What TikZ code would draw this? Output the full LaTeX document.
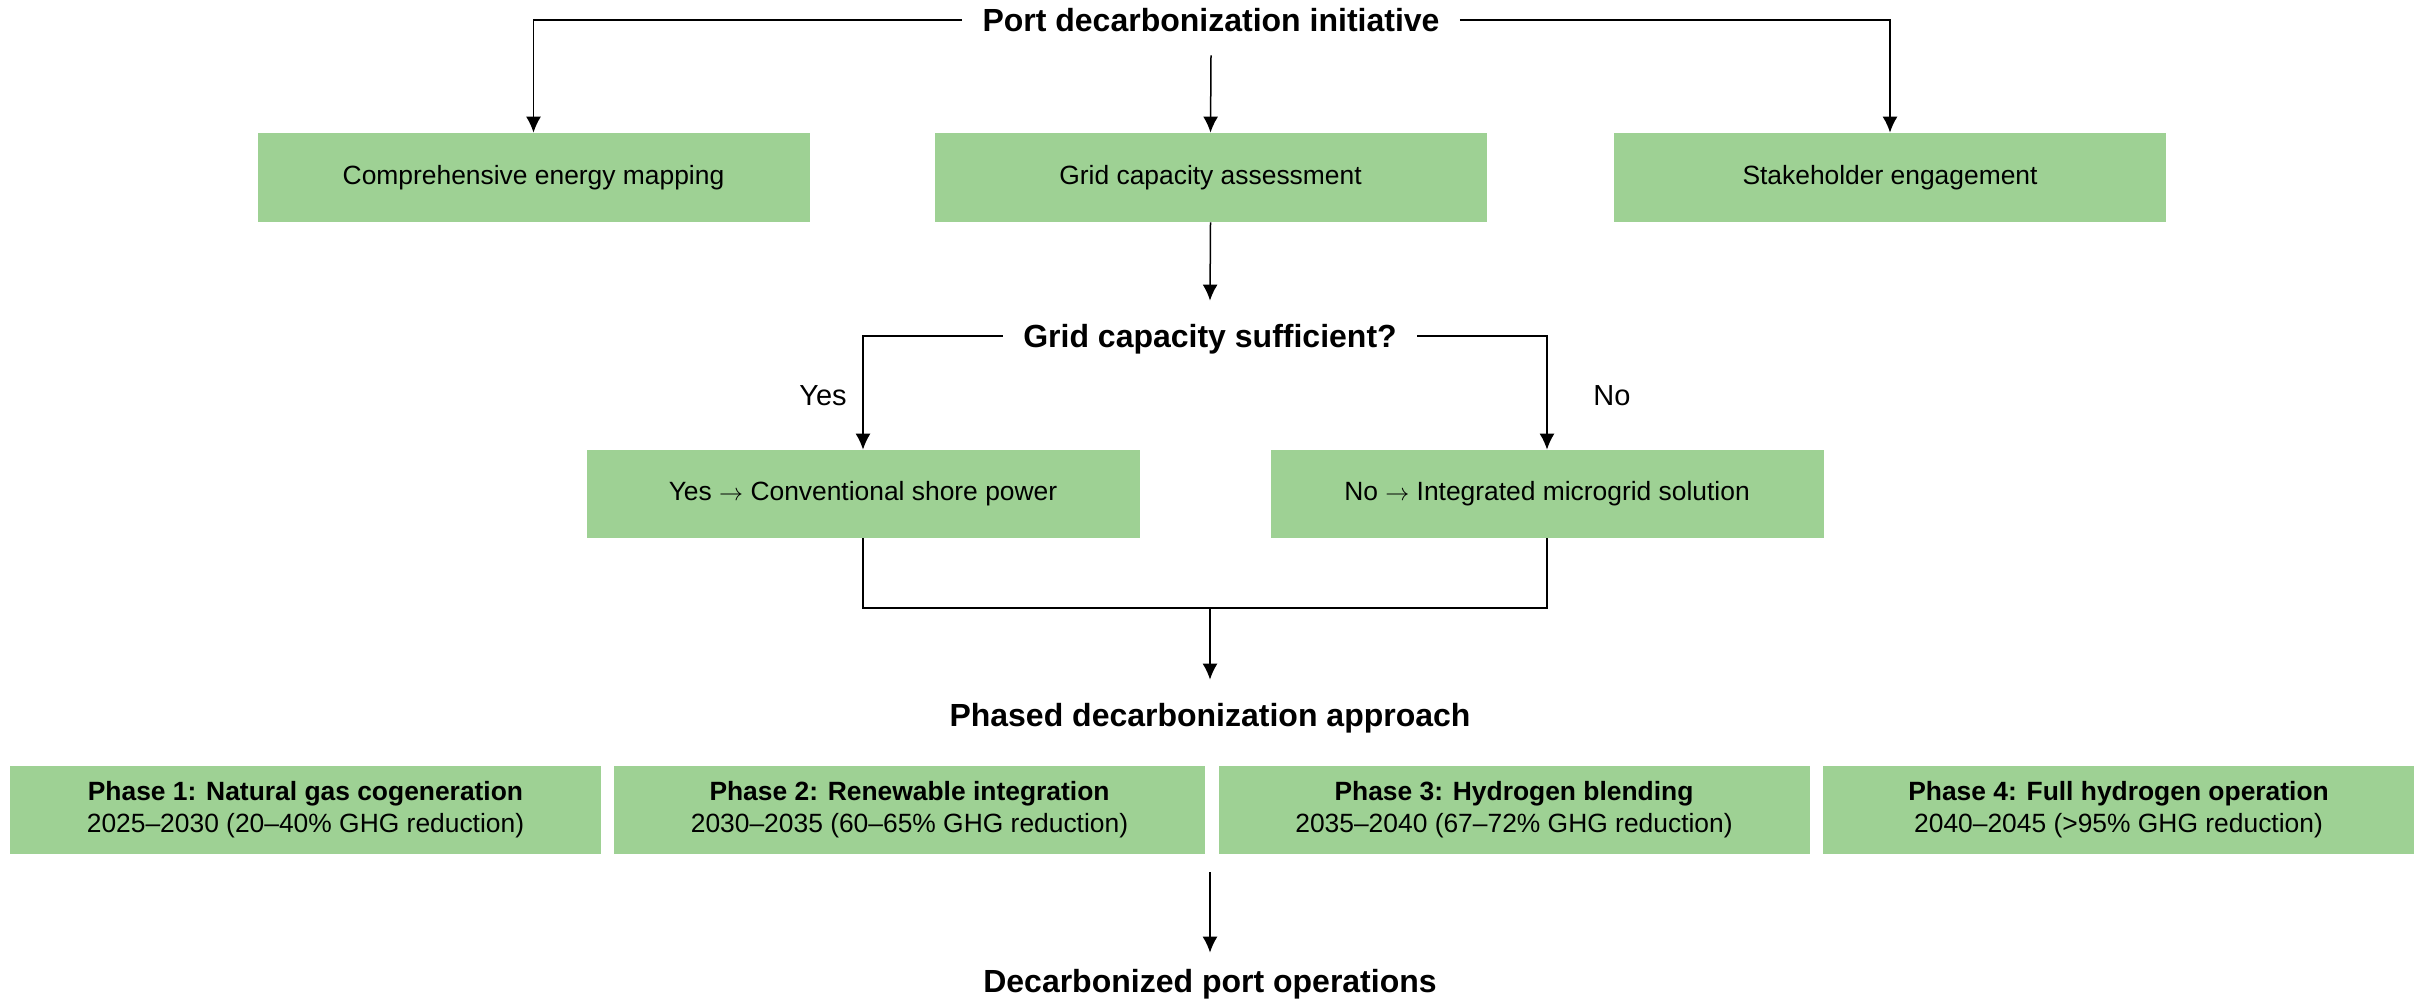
\documentclass[tikz,border=0pt]{standalone}
\usepackage{fontspec}
\setmainfont{Liberation Sans}
\usetikzlibrary{arrows.meta}
\definecolor{boxgreen}{RGB}{158,209,148}
\begin{document}
\begin{tikzpicture}[x=0.5pt,y=-0.5pt,
  conn/.style={draw=black,line width=0.75pt},
  arr/.style={conn,-{Latex[length=8pt,width=7.5pt]}},
  head/.style={font=\bfseries\fontsize{16}{19}\selectfont,text height=11.5pt,text depth=0pt,inner xsep=10pt,inner ysep=11.75pt},
  gbox/.style={fill=boxgreen,draw=none,minimum width=276pt,minimum height=44.5pt,font=\fontsize{13.2}{16}\selectfont,inner sep=0pt},
  pbox/.style={fill=boxgreen,draw=none,minimum width=295.5pt,minimum height=44pt,font=\fontsize{13.2}{16}\selectfont,align=center,inner sep=0pt},
  lbl/.style={font=\fontsize{14.5}{18}\selectfont,inner sep=0pt}]
\useasboundingbox (0,0) rectangle (2420,998);

\node[head] (title) at (1211,20) {Port decarbonization initiative};
\node[gbox] (b1) at (533.5,177.5) {Comprehensive energy mapping};
\node[gbox] (b2) at (1210.5,177.5) {Grid capacity assessment};
\node[gbox] (b3) at (1890,177.5) {Stakeholder engagement};

\draw[arr] (title.west) -| (b1.north);
\draw[arr] (title.east) -| (b3.north);
\draw[arr] (title.south) -- (b2.north);

\node[head] (q) at (1210,336) {Grid capacity sufficient?};
\draw[arr] (b2.south) -- (q.north);

\node[gbox,minimum width=276.5pt,minimum height=44pt] (yes) at (863,494) {Yes $\rightarrow$ Conventional shore power};
\node[gbox,minimum width=276.5pt,minimum height=44pt] (no) at (1547,494) {No $\rightarrow$ Integrated microgrid solution};
\node[lbl] (ylab) at (823,396) {Yes};
\node[lbl] (nlab) at (1612,396) {No};

\draw[arr] (q.west) -| (yes.north);
\draw[arr] (q.east) -| (no.north);

\coordinate (m) at (1210,608);
\node[head] (phased) at (1210,715) {Phased decarbonization approach};
\draw[conn] (yes.south) |- (m) -| (no.south);
\draw[arr] (m) -- (phased.north);

\node[pbox] (p1) at (305.5,810) {\textbf{Phase 1: Natural gas cogeneration}\\2025–2030 (20–40\% GHG reduction)};
\node[pbox] (p2) at (909.5,810) {\textbf{Phase 2: Renewable integration}\\2030–2035 (60–65\% GHG reduction)};
\node[pbox] (p3) at (1514,810) {\textbf{Phase 3: Hydrogen blending}\\2035–2040 (67–72\% GHG reduction)};
\node[pbox] (p4) at (2118.5,810) {\textbf{Phase 4: Full hydrogen operation}\\2040–2045 (>95\% GHG reduction)};

\coordinate (ps) at (1210,872);
\node[head,inner ysep=8.25pt] (final) at (1210,981) {Decarbonized port operations};
\draw[arr] (ps) -- (final.north);
\end{tikzpicture}
\end{document}
